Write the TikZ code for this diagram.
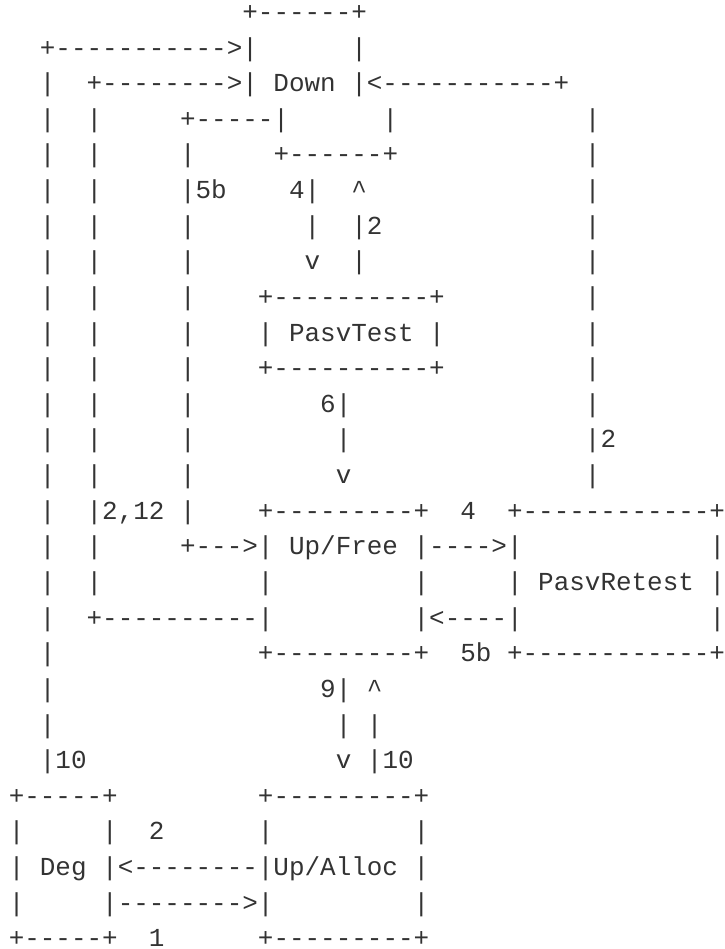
\documentclass[tikz,border=0pt]{standalone}
\usepackage{fontspec}
\setmonofont{Liberation Mono}
\definecolor{ink}{HTML}{333333}
\tikzset{asciiline/.style={anchor=base west, inner sep=0pt, outer sep=0pt, text=ink,
  font=\ttfamily\fontsize{25.95}{35.63}\selectfont}}
\begin{document}
\begin{tikzpicture}[x=1pt,y=-1pt]
\useasboundingbox (0,0) rectangle (724,949);
\begin{scope}[x=1pt,y=-35.63pt,yshift=-20.4pt]
\node[asciiline] (l1)  at (8.78,0)  {~~~~~~~~~~~~~~~+------+};
\node[asciiline] (l2)  at (8.78,1)  {~~+----------->|~~~~~~|};
\node[asciiline] (l3)  at (8.78,2)  {~~|~~+-------->|~Down~|<-----------+};
\node[asciiline] (l4)  at (8.78,3)  {~~|~~|~~~~~+-----|~~~~~~|~~~~~~~~~~~~|};
\node[asciiline] (l5)  at (8.78,4)  {~~|~~|~~~~~|~~~~~+------+~~~~~~~~~~~~|};
\node[asciiline] (l6)  at (8.78,5)  {~~|~~|~~~~~|5b~~~~4|~~\textasciicircum{}~~~~~~~~~~~~~~|};
\node[asciiline] (l7)  at (8.78,6)  {~~|~~|~~~~~|~~~~~~~|~~|2~~~~~~~~~~~~~|};
\node[asciiline] (l8)  at (8.78,7)  {~~|~~|~~~~~|~~~~~~~v~~|~~~~~~~~~~~~~~|};
\node[asciiline] (l9)  at (8.78,8)  {~~|~~|~~~~~|~~~~+----------+~~~~~~~~~|};
\node[asciiline] (l10) at (8.78,9)  {~~|~~|~~~~~|~~~~|~PasvTest~|~~~~~~~~~|};
\node[asciiline] (l11) at (8.78,10) {~~|~~|~~~~~|~~~~+----------+~~~~~~~~~|};
\node[asciiline] (l12) at (8.78,11) {~~|~~|~~~~~|~~~~~~~~6|~~~~~~~~~~~~~~~|};
\node[asciiline] (l13) at (8.78,12) {~~|~~|~~~~~|~~~~~~~~~|~~~~~~~~~~~~~~~|2};
\node[asciiline] (l14) at (8.78,13) {~~|~~|~~~~~|~~~~~~~~~v~~~~~~~~~~~~~~~|};
\node[asciiline] (l15) at (8.78,14) {~~|~~|2,12~|~~~~+---------+~~4~~+------------+};
\node[asciiline] (l16) at (8.78,15) {~~|~~|~~~~~+--->|~Up/Free~|---->|~~~~~~~~~~~~|};
\node[asciiline] (l17) at (8.78,16) {~~|~~|~~~~~~~~~~|~~~~~~~~~|~~~~~|~PasvRetest~|};
\node[asciiline] (l18) at (8.78,17) {~~|~~+----------|~~~~~~~~~|<----|~~~~~~~~~~~~|};
\node[asciiline] (l19) at (8.78,18) {~~|~~~~~~~~~~~~~+---------+~~5b~+------------+};
\node[asciiline] (l20) at (8.78,19) {~~|~~~~~~~~~~~~~~~~~9|~\textasciicircum};
\node[asciiline] (l21) at (8.78,20) {~~|~~~~~~~~~~~~~~~~~~|~|};
\node[asciiline] (l22) at (8.78,21) {~~|10~~~~~~~~~~~~~~~~v~|10};
\node[asciiline] (l23) at (8.78,22) {+-----+~~~~~~~~~+---------+};
\node[asciiline] (l24) at (8.78,23) {|~~~~~|~~2~~~~~~|~~~~~~~~~|};
\node[asciiline] (l25) at (8.78,24) {|~Deg~|<--------|Up/Alloc~|};
\node[asciiline] (l26) at (8.78,25) {|~~~~~|-------->|~~~~~~~~~|};
\node[asciiline] (l27) at (8.78,26) {+-----+~~1~~~~~~+---------+};
\end{scope}
\end{tikzpicture}
\end{document}
